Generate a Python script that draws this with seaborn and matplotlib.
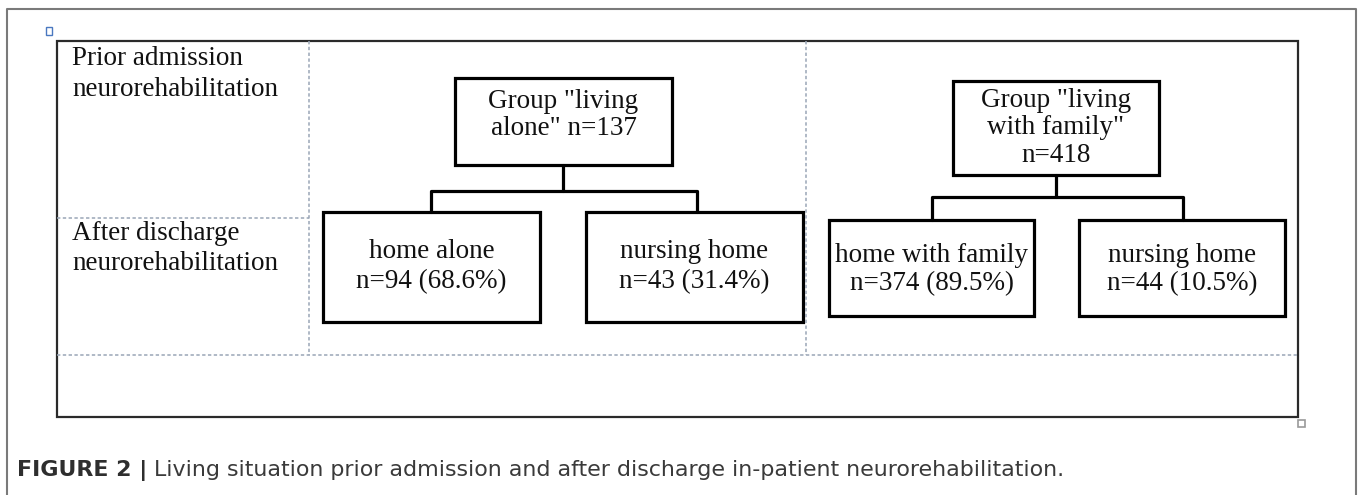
import matplotlib
matplotlib.use("Agg")
import matplotlib.pyplot as plt
import seaborn as sns
from matplotlib.patches import Rectangle

# ---- data ----
row_labels = [["Prior admission", "neurorehabilitation"], ["After discharge", "neurorehabilitation"]]
group_lines = [['Group "living', 'alone" n={n}'], ['Group "living', 'with family"', 'n={n}']]
group_n = [137, 418]
outcome_labels = ["home alone", "nursing home", "home with family", "nursing home"]
outcome_n = [94, 43, 374, 44]
outcome_pct = [68.6, 31.4, 89.5, 10.5]
caption_bold = "FIGURE 2 |"
caption_text = " Living situation prior admission and after discharge in-patient neurorehabilitation."

sns.set_theme(style="white")
plt.rcParams["font.family"] = ["Liberation Serif", "DejaVu Serif"]

W, H = 1360, 495
fig = plt.figure(figsize=(W / 100, H / 100), dpi=100)
ax = fig.add_axes([0, 0, 1, 1])
ax.set_xlim(0, W)
ax.set_ylim(H, 0)
ax.axis("off")

# outer page frame (gray)
ax.plot([7, 7, 1356, 1356], [H, 9, 9, H], color="#7a7a7a", lw=1.5, solid_capstyle="butt")

# inner table frame
ax.add_patch(Rectangle((57, 41), 1298 - 57, 417 - 41, fill=False, ec="#2a2a2a", lw=1.6))

# dotted grid lines
dcol = "#9aa6b6"
dstyle = (0, (2.2, 1.6))
ax.plot([309, 309], [41, 355], color=dcol, lw=1.1, ls=dstyle)
ax.plot([806, 806], [41, 355], color=dcol, lw=1.1, ls=dstyle)
ax.plot([57, 309], [218, 218], color=dcol, lw=1.1, ls=dstyle)
ax.plot([57, 1298], [355, 355], color=dcol, lw=1.1, ls=dstyle)

# small icons
ax.add_patch(Rectangle((46, 27), 6, 8, fill=False, ec="#4a78c0", lw=1.0))
ax.add_patch(Rectangle((1298, 420), 7, 7, fill=False, ec="#9a9a9a", lw=1.2))

tfs = 19.5
tcol = "#111111"

def lines_at(x, baselines, lines, ha="center"):
    for yb, s in zip(baselines, lines):
        ax.text(x, yb, s, fontsize=tfs, ha=ha, va="baseline", color=tcol)

# row labels
lines_at(72, [65, 96], row_labels[0], ha="left")
lines_at(72, [240, 270], row_labels[1], ha="left")

blw = 2.3
def box(x0, y0, x1, y1):
    ax.add_patch(Rectangle((x0, y0), x1 - x0, y1 - y0, fill=False, ec="black", lw=blw))

def connector(xc, ytop, ymid, xl, xr, ybot):
    ax.plot([xc, xc], [ytop, ymid], color="black", lw=blw)
    ax.plot([xl, xl, xr, xr], [ybot, ymid, ymid, ybot], color="black", lw=blw)

# group boxes
gboxes = [(455, 78, 672, 165), (953, 81, 1159, 175)]
gbase = [[108, 135], [107, 134, 162]]
for (x0, y0, x1, y1), lines, n, bl in zip(gboxes, group_lines, group_n, gbase):
    box(x0, y0, x1, y1)
    lines_at((x0 + x1) / 2, bl, [s.format(n=n) for s in lines])

connector(563, 165, 191, 431, 697, 212)
connector(1056, 175, 197, 932, 1183, 220)

oboxes = [(323, 212, 540, 322), (586, 212, 803, 322), (829, 220, 1034, 316), (1079, 220, 1285, 316)]
obase = [[258, 288], [258, 288], [262, 290], [262, 290]]
for (x0, y0, x1, y1), lab, n, p, bl in zip(oboxes, outcome_labels, outcome_n, outcome_pct, obase):
    box(x0, y0, x1, y1)
    lines_at((x0 + x1) / 2, bl, [lab, f"n={n} ({p}%)"])

# caption
cfam = ["DejaVu Sans"]
t = ax.text(17, 476, caption_bold, fontsize=15.9, fontweight="bold", family=cfam,
            va="baseline", ha="left", color="#2e2e2e")
fig.canvas.draw()
bb = t.get_window_extent()
x_end = ax.transData.inverted().transform((bb.x1, 0))[0]
ax.text(x_end, 476, caption_text, fontsize=15.9, family=cfam,
        va="baseline", ha="left", color="#3a3a3a")

fig.savefig("out.png", dpi=100)
